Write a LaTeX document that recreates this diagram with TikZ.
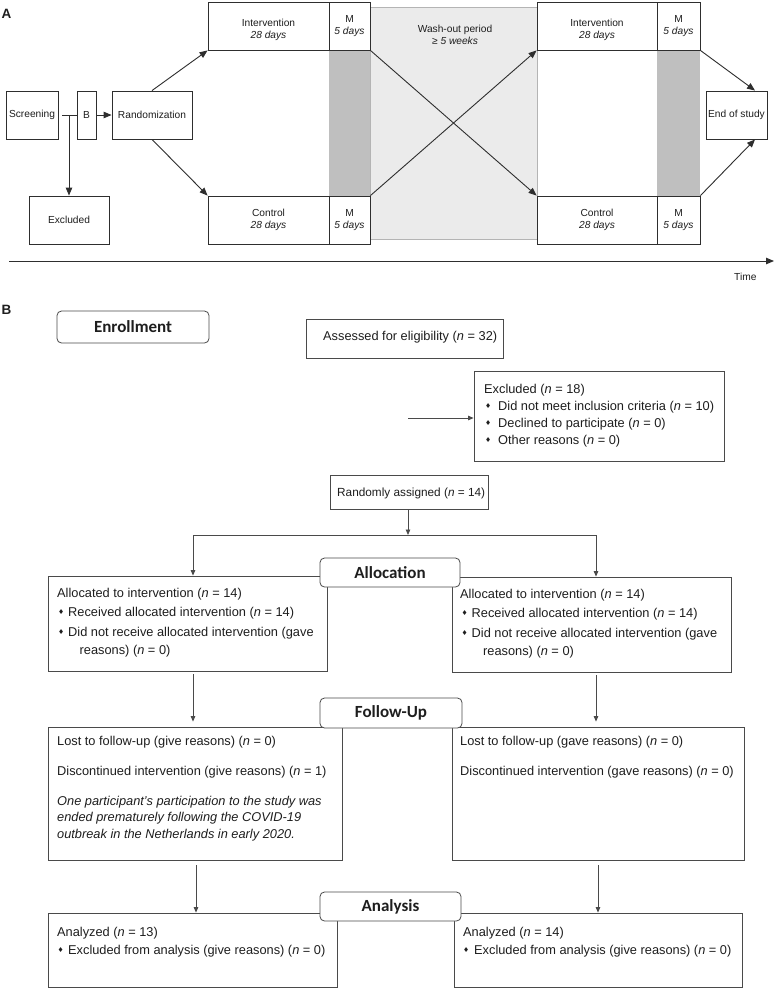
\documentclass[tikz,border=0pt]{standalone}
\usepackage{fontspec}
\setmainfont{Liberation Sans}
\newfontfamily\hdrfont{Carlito}
\newfontfamily\symfont{DejaVu Sans}
\usetikzlibrary{arrows.meta}
\definecolor{ink}{HTML}{1E1E1E}
\definecolor{lineA}{HTML}{2E2E2E}
\definecolor{lineB}{HTML}{4A4A4A}
\definecolor{washgray}{HTML}{EBEBEB}
\definecolor{washedge}{HTML}{B4B4B4}
\definecolor{mgray}{HTML}{BFBFBF}
\newcommand{\nn}{\textit{n}}
\newcommand{\bul}[1]{\makebox[#1][l]{\raisebox{1.3pt}{\symfont\fontsize{6.8}{7}\selectfont ♦}}}
\tikzset{
 fA/.style={font=\fontsize{10.2}{12}\selectfont},
 fB/.style={font=\fontsize{12.8}{16}\selectfont},
 abox/.style={draw=lineA, line width=0.9pt, fill=white, inner sep=0pt, align=center, fA},
 bbox/.style={draw=lineB, line width=0.8pt, fill=white, inner sep=0pt},
 hdr/.style={draw=lineB, line width=0.8pt, fill=white, rounded corners=4.5pt, inner sep=0pt, font=\hdrfont\bfseries\fontsize{17}{20}\selectfont},
 txt/.style={anchor=base west, inner sep=0pt, fB},
 atxt/.style={inner sep=0pt, align=center, fA},
 arrA/.style={draw=lineA, line width=0.9pt, -{Triangle[length=8pt,width=6.5pt]}},
 arrB/.style={draw=lineB, line width=0.8pt, -{Triangle[length=5.5pt,width=4.5pt]}},
 lnA/.style={draw=lineA, line width=0.9pt},
 lnB/.style={draw=lineB, line width=0.8pt},
 plabel/.style={anchor=base west, inner sep=0pt, font=\bfseries\fontsize{13.5}{14}\selectfont},
}
\begin{document}
\begin{tikzpicture}[x=1pt,y=-1pt,text=ink]
\fill[white] (0,0) rectangle (775,989);
\useasboundingbox (0,0) rectangle (775,989);

% ---------------- Panel A ----------------
\node[plabel] (labA) at (1.5,18) {A};

\fill[washgray, draw=washedge, line width=0.6pt] (370,7) rectangle (537,239);
\fill[mgray] (329,50) rectangle (370,196);
\fill[mgray] (657,50) rectangle (700,196);
\node[atxt] (wash) at (455,35) {Wash-out period\\\textit{≥ 5 weeks}};

\node[abox, minimum width=52pt, minimum height=48pt] (scr) at (32,115) {Screening};
\node[abox, minimum width=19pt, minimum height=48pt] (bb) at (86.5,115) {B};
\node[abox, minimum width=80pt, minimum height=48pt] (rnd) at (152,115) {Randomization};
\node[abox, minimum width=80pt, minimum height=48pt] (exc) at (69,220) {Excluded};

\node[abox, minimum width=121pt, minimum height=48pt] (i1) at (268.5,26) {};
\node[atxt] (i1t) at (268.5,30) {Intervention\\\textit{28 days}};
\node[abox, minimum width=41pt, minimum height=48pt] (m1) at (349.5,26) {M\\\textit{5 days}};
\node[abox, minimum width=121pt, minimum height=48pt] (c1) at (268.5,220) {Control\\\textit{28 days}};
\node[abox, minimum width=41pt, minimum height=48pt] (mc1) at (349.5,220) {M\\\textit{5 days}};

\node[abox, minimum width=120pt, minimum height=48pt] (i2) at (597,26) {};
\node[atxt] (i2t) at (597,30) {Intervention\\\textit{28 days}};
\node[abox, minimum width=43pt, minimum height=48pt] (m2) at (678.5,26) {M\\\textit{5 days}};
\node[abox, minimum width=120pt, minimum height=48pt] (c2) at (597,220) {Control\\\textit{28 days}};
\node[abox, minimum width=43pt, minimum height=48pt] (mc2) at (678.5,220) {M\\\textit{5 days}};

\node[abox, minimum width=61pt, minimum height=48pt] (end) at (736.5,115) {End of study};

\coordinate (jn) at (69,115);
\draw[lnA] ([xshift=4pt]scr.east) -- (bb.west);
\draw[arrA] (jn) -- (exc.north);
\draw[arrA] (bb.east) -- (rnd.west);
\draw[arrA] (rnd.north) -- (i1.south west);
\draw[arrA] (rnd.south) -- (c1.north west);
\draw[arrA] (m1.south east) -- (c2.north west);
\draw[arrA] (mc1.north east) -- (i2.south west);
\draw[arrA] (m2.south east) -- ([xshift=18.5pt]end.north);
\draw[arrA] (mc2.north east) -- ([xshift=18.5pt]end.south);

\coordinate (tax0) at (9,261);
\coordinate (tax1) at (774,261);
\draw[arrA] (tax0) -- (tax1);
\node[anchor=base west, inner sep=0pt, fA] (time) at (734,280) {Time};

% ---------------- Panel B ----------------
\node[plabel] (labB) at (1.5,314) {B};

\node[hdr, minimum width=152pt, minimum height=32pt] (henr) at (133,327) {Enrollment};

\node[bbox, minimum width=197pt, minimum height=39pt] (ass) at (404.5,338.5) {};
\node[txt] (asst) at (323,340) {Assessed for eligibility (\nn{} = 32)};

\node[bbox, minimum width=250pt, minimum height=90pt] (exB) at (599,416) {};
\node[txt] (ex1) at (484,393) {Excluded (\nn{} = 18)};
\node[txt] (ex2) at (485,410) {\bul{13pt}Did not meet inclusion criteria (\nn{} = 10)};
\node[txt] (ex3) at (485,427) {\bul{13pt}Declined to participate (\nn{} = 0)};
\node[txt] (ex4) at (485,444) {\bul{13pt}Other reasons (\nn{} = 0)};

\node[bbox, minimum width=158pt, minimum height=34pt] (rass) at (409,492) {};
\node[txt, font=\fontsize{11.8}{14}\selectfont] (rasst) at (337,496) {Randomly assigned (\nn{} = 14)};

% allocation boxes
\node[bbox, minimum width=279pt, minimum height=95pt] (la) at (187.5,623.5) {};
\node[txt] (la1) at (57,597) {Allocated to intervention (\nn{} = 14)};
\node[txt] (la2) at (58,616) {\bul{10pt}Received allocated intervention (\nn{} = 14)};
\node[txt] (la3) at (58,636) {\bul{10pt}Did not receive allocated intervention (gave};
\node[txt] (la4) at (79.5,654) {reasons) (\nn{} = 0)};

\node[bbox, minimum width=279pt, minimum height=95pt] (ra) at (591.5,624.5) {};
\node[txt] (ra1) at (460,598) {Allocated to intervention (\nn{} = 14)};
\node[txt] (ra2) at (461.5,617) {\bul{10pt}Received allocated intervention (\nn{} = 14)};
\node[txt] (ra3) at (461.5,637) {\bul{10pt}Did not receive allocated intervention (gave};
\node[txt] (ra4) at (483,655) {reasons) (\nn{} = 0)};

% follow-up boxes
\node[bbox, minimum width=294pt, minimum height=133pt] (lf) at (195,793.5) {};
\node[txt] (lf1) at (57,745) {Lost to follow-up (give reasons) (\nn{} = 0)};
\node[txt] (lf2) at (57,775) {Discontinued intervention (give reasons) (\nn{} = 1)};
\node[txt] (lf3) at (57,805) {\itshape One participant's participation to the study was};
\node[txt] (lf4) at (57,821.5) {\itshape ended prematurely following the COVID-19};
\node[txt] (lf5) at (57,838) {\itshape outbreak in the Netherlands in early 2020.};

\node[bbox, minimum width=292pt, minimum height=133pt] (rf) at (598,793.5) {};
\node[txt] (rf1) at (460,745) {Lost to follow-up (gave reasons) (\nn{} = 0)};
\node[txt] (rf2) at (460,775) {Discontinued intervention (gave reasons) (\nn{} = 0)};

% analysis boxes
\node[bbox, minimum width=289pt, minimum height=74pt] (lan) at (192.5,950) {};
\node[txt] (lan1) at (57,936) {Analyzed (\nn{} = 13)};
\node[txt] (lan2) at (57.5,954) {\bul{10.5pt}Excluded from analysis (give reasons) (\nn{} = 0)};

\node[bbox, minimum width=288pt, minimum height=74pt] (ran) at (598,950) {};
\node[txt] (ran1) at (463,936) {Analyzed (\nn{} = 14)};
\node[txt] (ran2) at (463,954) {\bul{11pt}Excluded from analysis (give reasons) (\nn{} = 0)};

% headers drawn over the boxes
\node[hdr, minimum width=140pt, minimum height=29pt] (halloc) at (390,572.5) {Allocation};
\node[hdr, minimum width=142pt, minimum height=30pt] (hfol) at (391,713) {Follow-Up};
\node[hdr, minimum width=141pt, minimum height=29pt] (hana) at (390.5,906.5) {Analysis};

% connectors
\coordinate (exs) at (408,418);
\draw[arrB] (exs) -- (exs -| exB.west);
\coordinate (split) at (408,535);
\draw[arrB] (rass.south -| split) -- (split);
\coordinate (splL) at (193,535);
\coordinate (splR) at (596,535);
\draw[lnB] (splL) -- (splR);
\draw[arrB] (splL) -- (splL |- la.north);
\draw[arrB] (splR) -- (splR |- ra.north);
\coordinate (cL2) at (196,0);
\coordinate (cR2) at (598,0);
\draw[arrB, shorten <=3pt, shorten >=5pt] (splL |- la.south) -- (splL |- lf.north);
\draw[arrB, shorten <=3pt, shorten >=5pt] (splR |- ra.south) -- (splR |- rf.north);
\draw[arrB, shorten <=5pt] (cL2 |- lf.south) -- (cL2 |- lan.north);
\draw[arrB, shorten <=5pt] (cR2 |- rf.south) -- (cR2 |- ran.north);
\end{tikzpicture}
\end{document}
